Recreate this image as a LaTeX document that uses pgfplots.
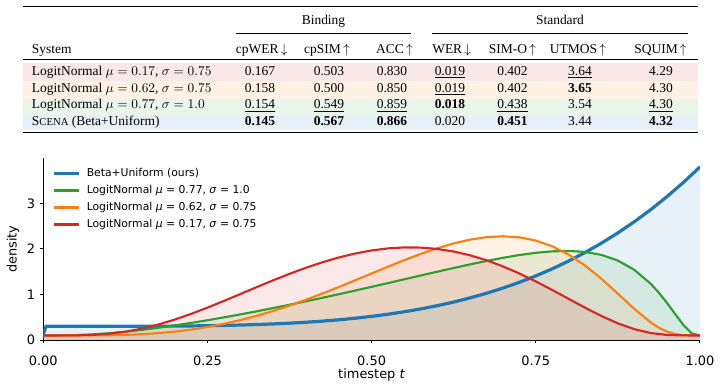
\documentclass[border=0pt]{standalone}
\usepackage{fontspec}
\setmainfont{Liberation Serif}
\newfontfamily\dv{DejaVu Sans}
\usepackage{pgfplots}
\pgfplotsset{compat=1.18}
\usepackage{pgfplotstable}

\definecolor{tabblue}{HTML}{1F77B4}
\definecolor{taborange}{HTML}{FF7F0E}
\definecolor{tabgreen}{HTML}{2CA02C}
\definecolor{tabred}{HTML}{D62728}

\newcommand\tf{\fontsize{10.1}{12.2}\selectfont}
\newcommand\fakesc[1]{{\fontsize{8}{9}\selectfont #1}}

% Beta+Uniform sampler density
\pgfplotstableread{
t y
0 0.12
0.004 0.300
0.025 0.3000
0.05 0.3000
0.075 0.3001
0.1 0.3004
0.125 0.3009
0.15 0.3018
0.175 0.3033
0.2 0.3056
0.225 0.3090
0.25 0.3137
0.275 0.3200
0.3 0.3284
0.325 0.3390
0.35 0.3525
0.375 0.3692
0.4 0.3896
0.425 0.4142
0.45 0.4435
0.475 0.4782
0.5 0.5188
0.525 0.5659
0.55 0.6203
0.575 0.6826
0.6 0.7536
0.625 0.8341
0.65 0.9248
0.675 1.0266
0.7 1.1404
0.725 1.2670
0.75 1.4074
0.775 1.5626
0.8 1.7336
0.825 1.9214
0.85 2.1270
0.875 2.3516
0.9 2.5964
0.925 2.8623
0.95 3.1508
0.975 3.4629
1 3.8
}\blueT

% LogitNormal mu=0.77, sigma=1.0
\pgfplotstableread{
t y
0 0.100
0.025 0.1008
0.05 0.1076
0.075 0.1237
0.1 0.1489
0.125 0.1821
0.15 0.2223
0.175 0.2684
0.2 0.3195
0.225 0.3749
0.25 0.4341
0.275 0.4967
0.3 0.5623
0.325 0.6306
0.35 0.7015
0.375 0.7746
0.4 0.8497
0.425 0.9268
0.45 1.0057
0.475 1.0861
0.5 1.1678
0.525 1.2504
0.55 1.3337
0.575 1.4170
0.6 1.4999
0.625 1.5813
0.65 1.6603
0.675 1.7354
0.7 1.8046
0.725 1.8654
0.75 1.9143
0.775 1.9465
0.8 1.9559
0.825 1.9338
0.85 1.8686
0.875 1.7443
0.9 1.5408
0.925 1.2345
0.9375 1.0368
0.95 0.8107
0.9625 0.5649
0.975 0.3239
0.9875 0.1447
1 0.100
}\greenT

% LogitNormal mu=0.62, sigma=0.75
\pgfplotstableread{
t y
0 0.100
0.025 0.1000
0.05 0.1001
0.075 0.1011
0.1 0.1046
0.125 0.1126
0.15 0.1272
0.175 0.1503
0.2 0.1836
0.225 0.2281
0.25 0.2849
0.275 0.3542
0.3 0.4363
0.325 0.5310
0.35 0.6376
0.375 0.7555
0.4 0.8833
0.425 1.0198
0.45 1.1629
0.475 1.3108
0.5 1.4607
0.525 1.6096
0.55 1.7544
0.575 1.8909
0.6 2.0147
0.625 2.1210
0.65 2.2043
0.675 2.2585
0.7 2.2774
0.725 2.2542
0.75 2.1829
0.775 2.0576
0.8 1.8753
0.825 1.6355
0.85 1.3446
0.875 1.0172
0.9 0.6829
0.925 0.3862
0.9375 0.2694
0.95 0.1827
0.9625 0.1290
0.975 0.1052
1 0.100
}\orangeT

% LogitNormal mu=0.17, sigma=0.75
\pgfplotstableread{
t y
0 0.100
0.025 0.1000
0.05 0.1018
0.075 0.1115
0.1 0.1365
0.125 0.1818
0.15 0.2493
0.175 0.3386
0.2 0.4475
0.225 0.5728
0.25 0.7107
0.275 0.8572
0.3 1.0086
0.325 1.1608
0.35 1.3100
0.375 1.4529
0.4 1.5860
0.425 1.7066
0.45 1.8118
0.475 1.8992
0.5 1.9663
0.525 2.0114
0.55 2.0327
0.575 2.0288
0.6 1.9987
0.625 1.9422
0.65 1.8591
0.675 1.7498
0.7 1.6163
0.725 1.4606
0.75 1.2863
0.775 1.0983
0.8 0.9033
0.825 0.7093
0.85 0.5262
0.875 0.3652
0.9 0.2379
0.925 0.1526
0.95 0.1108
0.975 0.1004
1 0.100
}\redT

\begin{document}
\begin{tikzpicture}
\path[use as bounding box] (0pt,0pt) rectangle (540.75pt,-291pt);

% ---------- results table ----------
\begin{scope}[x=0.75pt,y=-0.75pt,every node/.style={font=\tf,inner sep=0pt}]
  % row shading
  \fill[tabred!11]    (22.7,63.3)  rectangle (698,81.2);
  \fill[taborange!11] (22.7,81.2)  rectangle (698,98.6);
  \fill[tabgreen!11]  (22.7,98.6)  rectangle (698,114.8);
  \fill[tabblue!11]   (22.7,114.8) rectangle (698,130.2);
  % rules
  \draw[line width=1.1pt]  (22.7,6.7)   -- (698,6.7);
  \draw[line width=0.45pt] (236,33.3)   -- (410.5,33.3);
  \draw[line width=0.45pt] (432,33.3)   -- (688.3,33.3);
  \draw[line width=0.75pt] (22.7,59.3)  -- (698,59.3);
  \draw[line width=1.1pt]  (22.7,132.5) -- (698,132.5);
  % group headers
  \node[anchor=base] at (323.5,25) {Binding};
  \node[anchor=base] at (560,25) {Standard};
  % column headers
  \node[anchor=base west] at (31.7,53.3) {System};
  \node[anchor=base] at (261.7,53.3) {cpWER\,$\downarrow$};
  \node[anchor=base] at (327,53.3) {cpSIM\,$\uparrow$};
  \node[anchor=base] at (394.5,53.3) {ACC\,$\uparrow$};
  \node[anchor=base] at (451.7,53.3) {WER\,$\downarrow$};
  \node[anchor=base] at (512.5,53.3) {SIM-O\,$\uparrow$};
  \node[anchor=base] at (578,53.3) {UTMOS\,$\uparrow$};
  \node[anchor=base] at (660.5,53.3) {SQUIM\,$\uparrow$};
  % row labels
  \node[anchor=base west] at (31.7,75.6)  {LogitNormal $\mu=0.17$, $\sigma=0.75$};
  \node[anchor=base west] at (31.7,92.3)  {LogitNormal $\mu=0.62$, $\sigma=0.75$};
  \node[anchor=base west] at (31.7,109)   {LogitNormal $\mu=0.77$, $\sigma=1.0$};
  \node[anchor=base west] at (31.7,125.7) {S\fakesc{CENA} (Beta+Uniform)};
  % values
  \foreach \yy/\a/\b/\c/\d/\e/\f/\g in {
    75.6/0.167/0.503/0.830/\underline{0.019}/0.402/\underline{3.64}/4.29,
    92.3/0.158/0.500/0.850/\underline{0.019}/0.402/\textbf{3.65}/4.30,
    109/\underline{0.154}/\underline{0.549}/\underline{0.859}/\textbf{0.018}/\underline{0.438}/3.54/\underline{4.30},
    125.7/\textbf{0.145}/\textbf{0.567}/\textbf{0.866}/0.020/\textbf{0.451}/3.44/\textbf{4.32}}{
    \node[anchor=base] at (260,\yy) {\a};
    \node[anchor=base] at (329,\yy) {\b};
    \node[anchor=base] at (392,\yy) {\c};
    \node[anchor=base] at (450,\yy) {\d};
    \node[anchor=base] at (512.5,\yy) {\e};
    \node[anchor=base] at (580,\yy) {\f};
    \node[anchor=base] at (661,\yy) {\g};
  }
\end{scope}

% ---------- sampling densities ----------
\begin{axis}[
  at={(32.475pt,-255pt)}, anchor=south west,
  scale only axis, width=492.5pt, height=136.3pt,
  xmin=0, xmax=1, ymin=0, ymax=3.99,
  axis x line*=bottom, axis y line*=left,
  axis line style={line width=0.75pt, black, -},
  tick align=outside, major tick length=2.6pt,
  tick style={line width=0.75pt, black},
  xtick={0,0.25,0.5,0.75,1},
  xticklabels={0.00,0.25,0.50,0.75,1.00},
  ytick={0,1,2,3},
  /pgf/number format/assume math mode=true,
  ticklabel style={font=\dv\fontsize{9.7}{11}\selectfont},
  xticklabel style={anchor=base, yshift=-16.3pt},
  xlabel={timestep \textit{t}}, ylabel={density},
  label style={font=\dv\fontsize{9.7}{11}\selectfont},
  xlabel style={at={(axis description cs:0.5,0)}, anchor=base, yshift=-29.2pt},
  ylabel style={at={(axis description cs:-0.0408,0.5)}, anchor=base},
  legend cell align=left,
  legend style={draw=none, fill=none, at={(axis description cs:0,1)}, anchor=north west,
    xshift=6.5pt, yshift=-7.4pt, inner sep=0pt, row sep=5.05pt,
    font=\dv\fontsize{8.1}{9.7}\selectfont,
    nodes={inner sep=0pt, text height=6pt, text depth=1.7pt}},
  legend image code/.code={\draw[#1] (0pt,0pt) -- (18.75pt,0pt); \path (23.5pt,0pt);},
  every axis plot/.append style={line join=round},
]
  % shaded areas under each curve
  \addplot[draw=none, fill=tabblue,   fill opacity=0.1, forget plot] table[x=t,y=y]{\blueT}   \closedcycle;
  \addplot[draw=none, fill=tabgreen,  fill opacity=0.1, forget plot] table[x=t,y=y]{\greenT}  \closedcycle;
  \addplot[draw=none, fill=taborange, fill opacity=0.1, forget plot] table[x=t,y=y]{\orangeT} \closedcycle;
  \addplot[draw=none, fill=tabred,    fill opacity=0.1, forget plot] table[x=t,y=y]{\redT}    \closedcycle;
  % density curves
  \addplot[tabblue,   line width=2.4pt] table[x=t,y=y]{\blueT};
  \addlegendentry{Beta+Uniform (ours)}
  \addplot[tabgreen,  line width=1.6pt] table[x=t,y=y]{\greenT};
  \addlegendentry{LogitNormal \textit{μ} = 0.77, \textit{σ} = 1.0}
  \addplot[taborange, line width=1.6pt] table[x=t,y=y]{\orangeT};
  \addlegendentry{LogitNormal \textit{μ} = 0.62, \textit{σ} = 0.75}
  \addplot[tabred,    line width=1.6pt] table[x=t,y=y]{\redT};
  \addlegendentry{LogitNormal \textit{μ} = 0.17, \textit{σ} = 0.75}
\end{axis}
\end{tikzpicture}
\end{document}
